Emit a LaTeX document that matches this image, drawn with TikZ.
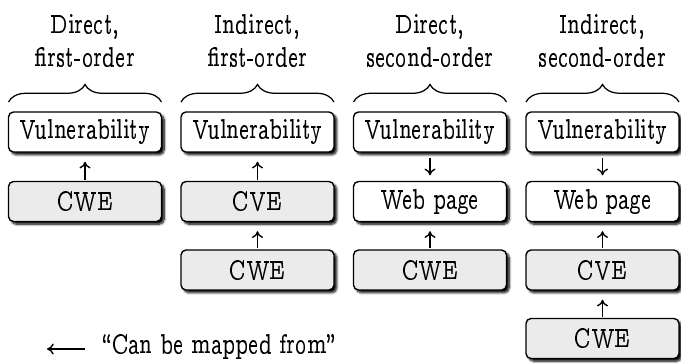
\documentclass[tikz,border=0pt]{standalone}
\usepackage[OT1]{fontenc}
\usepackage{ccfonts}
\usetikzlibrary{shadows.blur,decorations.pathreplacing,arrows.meta}
% narrow set of the text face
\newcommand\hsq[1]{\scalebox{0.84}[1]{#1}}
\begin{document}
\begin{tikzpicture}[x=0.4pt,y=-0.4pt,
  box/.style={draw, line width=0.55pt, rounded corners=2pt,
    minimum width=61.2pt, minimum height=16pt, inner sep=0pt,
    font=\fontsize{11}{13}\selectfont,
    blur shadow={shadow xshift=1.1pt, shadow yshift=-1.1pt,
      shadow blur radius=0.9pt, shadow blur steps=6, shadow opacity=100}},
  plain/.style={box, fill=white},
  src/.style={box, fill=black!8},
  maps/.style={-{To[length=2.7pt,width=4.4pt]}, line width=0.55pt},
  head/.style={align=center, inner sep=0pt, font=\fontsize{11}{13.2}\selectfont},
  grp/.style={decorate, decoration={brace, amplitude=7pt}, line width=0.5pt}]
\useasboundingbox (0,0) rectangle (681,363);

% column headings
\node[head] (h1) at (85,40)    {\hsq{Direct,}\\\hsq{first-order}};
\node[head] (h2) at (257.5,40) {\hsq{Indirect,}\\\hsq{first-order}};
\node[head] (h3) at (430,40)   {\hsq{Direct,}\\\hsq{second-order}};
\node[head] (h4) at (602.5,40) {\hsq{Indirect,}\\\hsq{second-order}};

% braces over each column
\draw[grp] (8.5,102)   -- (161.5,102);
\draw[grp] (181,102)   -- (334,102);
\draw[grp] (353.5,102) -- (506.5,102);
\draw[grp] (526,102)   -- (679,102);

% direct, first-order
\node[plain] (v1) at (85,132)    {\hsq{Vulnerability}};
\node[src]   (w1) at (85,201.5)  {\hsq{CWE}};

% indirect, first-order
\node[plain] (v2) at (257.5,132)   {\hsq{Vulnerability}};
\node[src]   (e2) at (257.5,201.5) {\hsq{CVE}};
\node[src]   (w2) at (257.5,270)   {\hsq{CWE}};

% direct, second-order
\node[plain] (v3) at (430,132)   {\hsq{Vulnerability}};
\node[plain] (p3) at (430,201.5) {\hsq{Web page}};
\node[src]   (w3) at (430,270)   {\hsq{CWE}};

% indirect, second-order
\node[plain] (v4) at (602.5,132)   {\hsq{Vulnerability}};
\node[plain] (p4) at (602.5,201.5) {\hsq{Web page}};
\node[src]   (e4) at (602.5,270)   {\hsq{CVE}};
\node[src]   (w4) at (602.5,338.5) {\hsq{CWE}};

% mappings
\tikzset{up/.style={maps, shorten <=0.5pt, shorten >=3.6pt},
         down/.style={maps, shorten <=2pt, shorten >=2.2pt}}
\draw[up] (w1.north) -- (v1.south);
\draw[up] (e2.north) -- (v2.south);
\draw[up] (w2.north) -- (e2.south);
\draw[down] (v3.south) -- (p3.north);
\draw[up] (w3.north) -- (p3.south);
\draw[down] (v4.south) -- (p4.north);
\draw[up] (e4.north) -- (p4.south);
\draw[up] (w4.north) -- (e4.south);

% legend
\coordinate (lgA) at (85,349);
\coordinate (lgB) at (47,349);
\draw[maps] (lgA) -- (lgB);
\node[anchor=west, font=\fontsize{11}{13}\selectfont, inner sep=0pt] (lgT) at (100,347) {\hsq{``Can be mapped from''}};
\end{tikzpicture}
\end{document}
